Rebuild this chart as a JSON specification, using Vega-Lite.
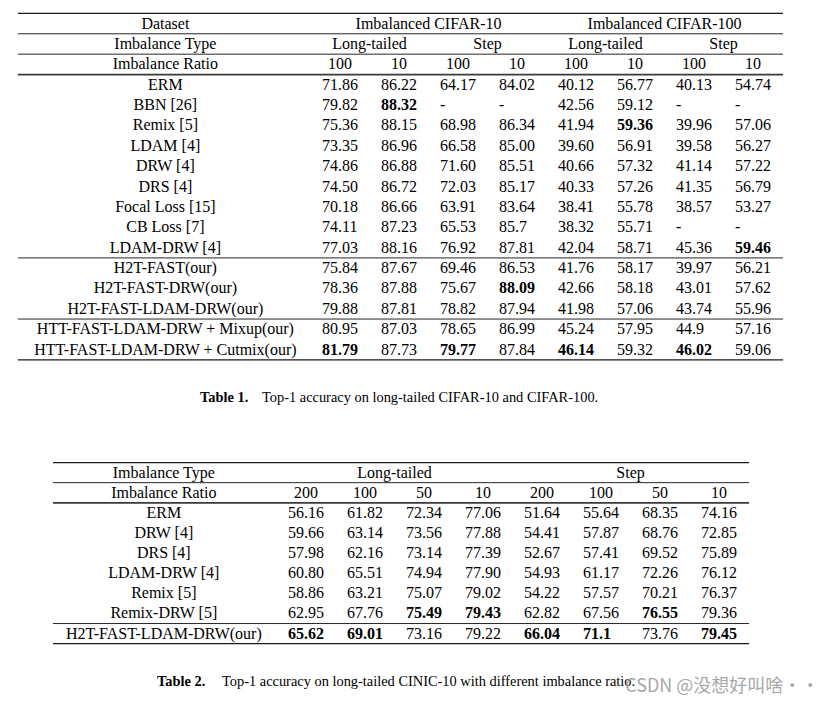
{
  "$schema": "https://vega.github.io/schema/vega-lite/v6.json",
  "width": 822,
  "height": 704,
  "autosize": {"type": "none"},
  "padding": 0,
  "background": "#ffffff",
  "config": {
    "view": {"stroke": null},
    "text": {"font": "Liberation Serif", "fontSize": 16, "color": "#000000", "baseline": "middle"}
  },
  "datasets": {
    "t1_rules": [
      {"row": -0.5, "kind": "frame"},
      {"row": 0.5, "kind": "thin"},
      {"row": 1.5, "kind": "thin"},
      {"row": 2.5, "kind": "thick"},
      {"row": 11.5, "kind": "thin"},
      {"row": 14.5, "kind": "thin"},
      {"row": 16.5, "kind": "frame"}
    ],
    "t1_names": [
      {"row": 0, "text": "Dataset"},
      {"row": 1, "text": "Imbalance Type"},
      {"row": 2, "text": "Imbalance Ratio"},
      {"row": 3, "text": "ERM"},
      {"row": 4, "text": "BBN [26]"},
      {"row": 5, "text": "Remix [5]"},
      {"row": 6, "text": "LDAM [4]"},
      {"row": 7, "text": "DRW [4]"},
      {"row": 8, "text": "DRS [4]"},
      {"row": 9, "text": "Focal Loss [15]"},
      {"row": 10, "text": "CB Loss [7]"},
      {"row": 11, "text": "LDAM-DRW [4]"},
      {"row": 12, "text": "H2T-FAST(our)"},
      {"row": 13, "text": "H2T-FAST-DRW(our)"},
      {"row": 14, "text": "H2T-FAST-LDAM-DRW(our)"},
      {"row": 15, "text": "HTT-FAST-LDAM-DRW + Mixup(our)"},
      {"row": 16, "text": "HTT-FAST-LDAM-DRW + Cutmix(our)"}
    ],
    "t1_head": [
      {"row": 0, "col": 1.5, "text": "Imbalanced CIFAR-10"},
      {"row": 0, "col": 5.5, "text": "Imbalanced CIFAR-100"},
      {"row": 1, "col": 0.5, "text": "Long-tailed"},
      {"row": 1, "col": 2.5, "text": "Step"},
      {"row": 1, "col": 4.5, "text": "Long-tailed"},
      {"row": 1, "col": 6.5, "text": "Step"},
      {"row": 2, "col": 0, "text": "100"},
      {"row": 2, "col": 1, "text": "10"},
      {"row": 2, "col": 2, "text": "100"},
      {"row": 2, "col": 3, "text": "10"},
      {"row": 2, "col": 4, "text": "100"},
      {"row": 2, "col": 5, "text": "10"},
      {"row": 2, "col": 6, "text": "100"},
      {"row": 2, "col": 7, "text": "10"}
    ],
    "t1_vals": [
      {"row": 3, "col": [0,1,2,3,4,5,6,7], "text": ["71.86","86.22","64.17","84.02","40.12","56.77","40.13","54.74"], "best": [0,0,0,0,0,0,0,0]},
      {"row": 4, "col": [0,1,2,3,4,5,6,7], "text": ["79.82","88.32","-","-","42.56","59.12","-","-"], "best": [0,1,0,0,0,0,0,0]},
      {"row": 5, "col": [0,1,2,3,4,5,6,7], "text": ["75.36","88.15","68.98","86.34","41.94","59.36","39.96","57.06"], "best": [0,0,0,0,0,1,0,0]},
      {"row": 6, "col": [0,1,2,3,4,5,6,7], "text": ["73.35","86.96","66.58","85.00","39.60","56.91","39.58","56.27"], "best": [0,0,0,0,0,0,0,0]},
      {"row": 7, "col": [0,1,2,3,4,5,6,7], "text": ["74.86","86.88","71.60","85.51","40.66","57.32","41.14","57.22"], "best": [0,0,0,0,0,0,0,0]},
      {"row": 8, "col": [0,1,2,3,4,5,6,7], "text": ["74.50","86.72","72.03","85.17","40.33","57.26","41.35","56.79"], "best": [0,0,0,0,0,0,0,0]},
      {"row": 9, "col": [0,1,2,3,4,5,6,7], "text": ["70.18","86.66","63.91","83.64","38.41","55.78","38.57","53.27"], "best": [0,0,0,0,0,0,0,0]},
      {"row": 10, "col": [0,1,2,3,4,5,6,7], "text": ["74.11","87.23","65.53","85.7","38.32","55.71","-","-"], "best": [0,0,0,0,0,0,0,0]},
      {"row": 11, "col": [0,1,2,3,4,5,6,7], "text": ["77.03","88.16","76.92","87.81","42.04","58.71","45.36","59.46"], "best": [0,0,0,0,0,0,0,1]},
      {"row": 12, "col": [0,1,2,3,4,5,6,7], "text": ["75.84","87.67","69.46","86.53","41.76","58.17","39.97","56.21"], "best": [0,0,0,0,0,0,0,0]},
      {"row": 13, "col": [0,1,2,3,4,5,6,7], "text": ["78.36","87.88","75.67","88.09","42.66","58.18","43.01","57.62"], "best": [0,0,0,1,0,0,0,0]},
      {"row": 14, "col": [0,1,2,3,4,5,6,7], "text": ["79.88","87.81","78.82","87.94","41.98","57.06","43.74","55.96"], "best": [0,0,0,0,0,0,0,0]},
      {"row": 15, "col": [0,1,2,3,4,5,6,7], "text": ["80.95","87.03","78.65","86.99","45.24","57.95","44.9","57.16"], "best": [0,0,0,0,0,0,0,0]},
      {"row": 16, "col": [0,1,2,3,4,5,6,7], "text": ["81.79","87.73","79.77","87.84","46.14","59.32","46.02","59.06"], "best": [1,0,1,0,1,0,1,0]}
    ],
    "t2_rules": [
      {"row": -0.5, "kind": "frame"},
      {"row": 0.5, "kind": "thin"},
      {"row": 1.5, "kind": "thick"},
      {"row": 7.5, "kind": "thin"},
      {"row": 8.5, "kind": "frame"}
    ],
    "t2_names": [
      {"row": 0, "text": "Imbalance Type"},
      {"row": 1, "text": "Imbalance Ratio"},
      {"row": 2, "text": "ERM"},
      {"row": 3, "text": "DRW [4]"},
      {"row": 4, "text": "DRS [4]"},
      {"row": 5, "text": "LDAM-DRW [4]"},
      {"row": 6, "text": "Remix [5]"},
      {"row": 7, "text": "Remix-DRW [5]"},
      {"row": 8, "text": "H2T-FAST-LDAM-DRW(our)"}
    ],
    "t2_head": [
      {"row": 0, "col": 1.5, "text": "Long-tailed"},
      {"row": 0, "col": 5.5, "text": "Step"},
      {"row": 1, "col": 0, "text": "200"},
      {"row": 1, "col": 1, "text": "100"},
      {"row": 1, "col": 2, "text": "50"},
      {"row": 1, "col": 3, "text": "10"},
      {"row": 1, "col": 4, "text": "200"},
      {"row": 1, "col": 5, "text": "100"},
      {"row": 1, "col": 6, "text": "50"},
      {"row": 1, "col": 7, "text": "10"}
    ],
    "t2_vals": [
      {"row": 2, "col": [0,1,2,3,4,5,6,7], "text": ["56.16","61.82","72.34","77.06","51.64","55.64","68.35","74.16"], "best": [0,0,0,0,0,0,0,0]},
      {"row": 3, "col": [0,1,2,3,4,5,6,7], "text": ["59.66","63.14","73.56","77.88","54.41","57.87","68.76","72.85"], "best": [0,0,0,0,0,0,0,0]},
      {"row": 4, "col": [0,1,2,3,4,5,6,7], "text": ["57.98","62.16","73.14","77.39","52.67","57.41","69.52","75.89"], "best": [0,0,0,0,0,0,0,0]},
      {"row": 5, "col": [0,1,2,3,4,5,6,7], "text": ["60.80","65.51","74.94","77.90","54.93","61.17","72.26","76.12"], "best": [0,0,0,0,0,0,0,0]},
      {"row": 6, "col": [0,1,2,3,4,5,6,7], "text": ["58.86","63.21","75.07","79.02","54.22","57.57","70.21","76.37"], "best": [0,0,0,0,0,0,0,0]},
      {"row": 7, "col": [0,1,2,3,4,5,6,7], "text": ["62.95","67.76","75.49","79.43","62.82","67.56","76.55","79.36"], "best": [0,0,1,1,0,0,1,0]},
      {"row": 8, "col": [0,1,2,3,4,5,6,7], "text": ["65.62","69.01","73.16","79.22","66.04","71.1","73.76","79.45"], "best": [1,1,0,0,1,1,0,1]}
    ]
  },
  "layer": [
    {
      "layer": [
        {
          "data": {"name": "t1_rules"},
          "transform": [{"filter": "datum.kind == 'thin'"}],
          "mark": {"type": "rule", "color": "#262626", "strokeWidth": 1},
          "encoding": {
            "x": {"datum": -5.46, "type": "quantitative", "scale": {"type": "linear", "domain": [0, 7], "range": [340, 753], "zero": false, "nice": false}, "axis": null},
            "x2": {"datum": 7.51},
            "y": {"field": "row", "type": "quantitative", "scale": {"type": "linear", "domain": [0, 16], "range": [23.6, 349.6], "zero": false, "nice": false}, "axis": null}
          }
        },
        {
          "data": {"name": "t1_rules"},
          "transform": [{"filter": "datum.kind == 'frame'"}],
          "mark": {"type": "rule", "color": "#1a1a1a", "strokeWidth": 1.3},
          "encoding": {
            "x": {"datum": -5.46, "type": "quantitative", "axis": null},
            "x2": {"datum": 7.51},
            "y": {"field": "row", "type": "quantitative", "axis": null}
          }
        },
        {
          "data": {"name": "t1_rules"},
          "transform": [{"filter": "datum.kind == 'thick'"}],
          "mark": {"type": "rule", "color": "#3a3a3a", "strokeWidth": 1.8},
          "encoding": {
            "x": {"datum": -5.46, "type": "quantitative", "axis": null},
            "x2": {"datum": 7.51},
            "y": {"field": "row", "type": "quantitative", "axis": null}
          }
        },
        {
          "data": {"name": "t1_names"},
          "mark": {"type": "text", "align": "center"},
          "encoding": {
            "x": {"datum": -2.96, "type": "quantitative", "axis": null},
            "y": {"field": "row", "type": "quantitative", "axis": null},
            "text": {"field": "text"}
          }
        },
        {
          "data": {"name": "t1_head"},
          "mark": {"type": "text", "align": "center"},
          "encoding": {
            "x": {"field": "col", "type": "quantitative", "axis": null},
            "y": {"field": "row", "type": "quantitative", "axis": null},
            "text": {"field": "text"}
          }
        },
        {
          "data": {"name": "t1_vals"},
          "transform": [{"flatten": ["col", "text", "best"]}, {"filter": "datum.best == 0"}],
          "mark": {"type": "text", "align": "left", "dx": -18},
          "encoding": {
            "x": {"field": "col", "type": "quantitative", "axis": null},
            "y": {"field": "row", "type": "quantitative", "axis": null},
            "text": {"field": "text"}
          }
        },
        {
          "data": {"name": "t1_vals"},
          "transform": [{"flatten": ["col", "text", "best"]}, {"filter": "datum.best == 1"}],
          "mark": {"type": "text", "align": "left", "dx": -18, "fontWeight": "bold"},
          "encoding": {
            "x": {"field": "col", "type": "quantitative", "axis": null},
            "y": {"field": "row", "type": "quantitative", "axis": null},
            "text": {"field": "text"}
          }
        },
        {
          "data": {"values": [{"text": "Table 1."}]},
          "mark": {"type": "text", "align": "left", "fontWeight": "bold", "fontSize": 14.4},
          "encoding": {
            "x": {"datum": -2.373, "type": "quantitative", "axis": null},
            "y": {"datum": 18.36, "type": "quantitative", "axis": null},
            "text": {"field": "text"}
          }
        },
        {
          "data": {"values": [{"text": "Top-1 accuracy on long-tailed CIFAR-10 and CIFAR-100."}]},
          "mark": {"type": "text", "align": "left", "fontSize": 14.4},
          "encoding": {
            "x": {"datum": -1.322, "type": "quantitative", "axis": null},
            "y": {"datum": 18.36, "type": "quantitative", "axis": null},
            "text": {"field": "text"}
          }
        }
      ]
    },
    {
      "layer": [
        {
          "data": {"name": "t2_rules"},
          "transform": [{"filter": "datum.kind == 'thin'"}],
          "mark": {"type": "rule", "color": "#262626", "strokeWidth": 1},
          "encoding": {
            "x": {"datum": -4.288, "type": "quantitative", "scale": {"type": "linear", "domain": [0, 7], "range": [306, 719], "zero": false, "nice": false}, "axis": null},
            "x2": {"datum": 7.51},
            "y": {"field": "row", "type": "quantitative", "scale": {"type": "linear", "domain": [0, 8], "range": [472.6, 633.6], "zero": false, "nice": false}, "axis": null}
          }
        },
        {
          "data": {"name": "t2_rules"},
          "transform": [{"filter": "datum.kind == 'frame'"}],
          "mark": {"type": "rule", "color": "#1a1a1a", "strokeWidth": 1.3},
          "encoding": {
            "x": {"datum": -4.288, "type": "quantitative", "axis": null},
            "x2": {"datum": 7.51},
            "y": {"field": "row", "type": "quantitative", "axis": null}
          }
        },
        {
          "data": {"name": "t2_rules"},
          "transform": [{"filter": "datum.kind == 'thick'"}],
          "mark": {"type": "rule", "color": "#3a3a3a", "strokeWidth": 1.8},
          "encoding": {
            "x": {"datum": -4.288, "type": "quantitative", "axis": null},
            "x2": {"datum": 7.51},
            "y": {"field": "row", "type": "quantitative", "axis": null}
          }
        },
        {
          "data": {"name": "t2_names"},
          "mark": {"type": "text", "align": "center"},
          "encoding": {
            "x": {"datum": -2.41, "type": "quantitative", "axis": null},
            "y": {"field": "row", "type": "quantitative", "axis": null},
            "text": {"field": "text"}
          }
        },
        {
          "data": {"name": "t2_head"},
          "mark": {"type": "text", "align": "center"},
          "encoding": {
            "x": {"field": "col", "type": "quantitative", "axis": null},
            "y": {"field": "row", "type": "quantitative", "axis": null},
            "text": {"field": "text"}
          }
        },
        {
          "data": {"name": "t2_vals"},
          "transform": [{"flatten": ["col", "text", "best"]}, {"filter": "datum.best == 0"}],
          "mark": {"type": "text", "align": "left", "dx": -18},
          "encoding": {
            "x": {"field": "col", "type": "quantitative", "axis": null},
            "y": {"field": "row", "type": "quantitative", "axis": null},
            "text": {"field": "text"}
          }
        },
        {
          "data": {"name": "t2_vals"},
          "transform": [{"flatten": ["col", "text", "best"]}, {"filter": "datum.best == 1"}],
          "mark": {"type": "text", "align": "left", "dx": -18, "fontWeight": "bold"},
          "encoding": {
            "x": {"field": "col", "type": "quantitative", "axis": null},
            "y": {"field": "row", "type": "quantitative", "axis": null},
            "text": {"field": "text"}
          }
        },
        {
          "data": {"values": [{"text": "Table 2."}]},
          "mark": {"type": "text", "align": "left", "fontWeight": "bold", "fontSize": 14.4},
          "encoding": {
            "x": {"datum": -2.525, "type": "quantitative", "axis": null},
            "y": {"datum": 10.385, "type": "quantitative", "axis": null},
            "text": {"field": "text"}
          }
        },
        {
          "data": {"values": [{"text": "Top-1 accuracy on long-tailed CINIC-10 with different imbalance ratio."}]},
          "mark": {"type": "text", "align": "left", "fontSize": 14.4},
          "encoding": {
            "x": {"datum": -1.424, "type": "quantitative", "axis": null},
            "y": {"datum": 10.385, "type": "quantitative", "axis": null},
            "text": {"field": "text"}
          }
        },
        {
          "data": {"values": [{"text": "CSDN @没想好叫啥··"}]},
          "mark": {"type": "text", "align": "left", "font": "Noto Sans CJK SC", "fontSize": 18, "color": "#9e9e9e", "opacity": 0.9},
          "encoding": {
            "x": {"datum": 5.41, "type": "quantitative", "axis": null},
            "y": {"datum": 10.63, "type": "quantitative", "axis": null},
            "text": {"field": "text"}
          }
        }
      ]
    }
  ],
  "resolve": {"scale": {"x": "independent", "y": "independent"}}
}
